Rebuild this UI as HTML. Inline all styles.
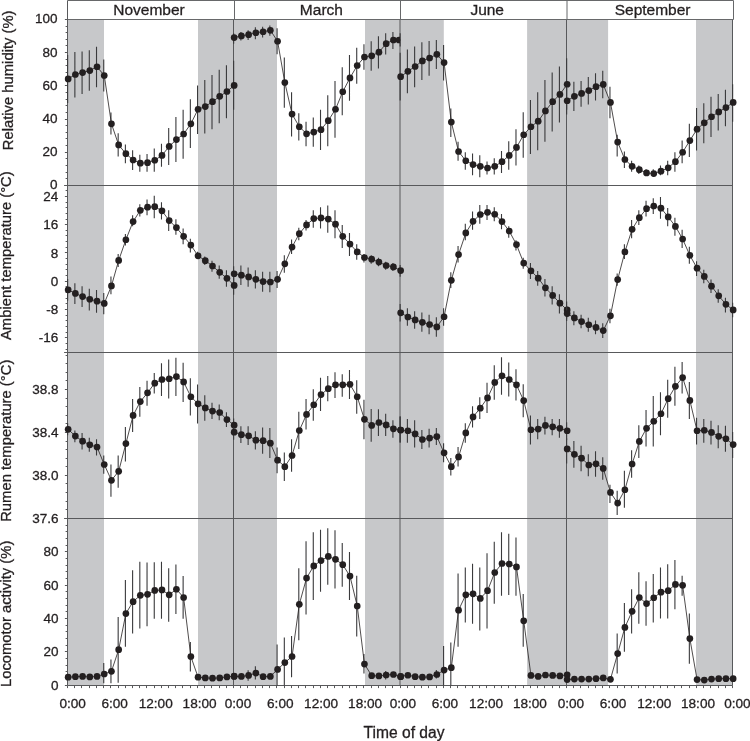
<!DOCTYPE html>
<html><head><meta charset="utf-8"><style>html,body{margin:0;padding:0;background:#fff;}body{width:750px;height:741px;overflow:hidden;}</style></head>
<body>
<svg width="750" height="741" viewBox="0 0 750 741" style="display:block;will-change:transform">
<rect width="750" height="741" fill="#fff"/>
<defs><clipPath id="clipmar"><rect x="380" y="20" width="20" height="40"/></clipPath></defs>
<rect x="67.5" y="19.5" width="36.50" height="666.00" fill="#c7c8ca"/>
<rect x="198.0" y="19.5" width="35.50" height="666.00" fill="#c7c8ca"/>
<rect x="233.5" y="19.5" width="43.50" height="666.00" fill="#c7c8ca"/>
<rect x="365.0" y="19.5" width="35.00" height="666.00" fill="#c7c8ca"/>
<rect x="400.0" y="19.5" width="43.80" height="666.00" fill="#c7c8ca"/>
<rect x="527.1" y="19.5" width="39.40" height="666.00" fill="#c7c8ca"/>
<rect x="566.5" y="19.5" width="41.60" height="666.00" fill="#c7c8ca"/>
<rect x="696.0" y="19.5" width="36.50" height="666.00" fill="#c7c8ca"/>
<path d="M64.1 185.5H732.5M64.1 352.5H732.5M64.1 518.5H732.5M233.5 19.5V685.5M400.0 19.5V685.5M566.5 19.5V685.5M67.5 685.5H732.5M732.5 19.5V685.5M67.5 0.5V685.5" stroke="#58595b" stroke-width="1" fill="none"/>
<path d="M67.5 0.5H733.5V19.5M67.5 19.5H733.5M234.5 0.5V19.5M400.5 0.5V19.5M567.0 0.5V19.5" stroke="#67686a" stroke-width="1" fill="none"/>
<path d="M64.9 19.50H67.5M65.6 26.50H67.5M65.6 32.50H67.5M65.6 39.50H67.5M65.6 45.50H67.5M64.9 52.50H67.5M65.6 59.50H67.5M65.6 65.50H67.5M65.6 72.50H67.5M65.6 79.50H67.5M64.9 85.50H67.5M65.6 92.50H67.5M65.6 99.50H67.5M65.6 105.50H67.5M65.6 112.50H67.5M64.9 119.50H67.5M65.6 125.50H67.5M65.6 132.50H67.5M65.6 138.50H67.5M65.6 145.50H67.5M64.9 152.50H67.5M65.6 158.50H67.5M65.6 165.50H67.5M65.6 172.50H67.5M65.6 178.50H67.5M64.9 185.50H67.5M65.6 190.50H67.5M64.9 196.50H67.5M65.6 202.50H67.5M65.6 207.50H67.5M65.6 213.50H67.5M65.6 219.50H67.5M64.9 224.50H67.5M65.6 230.50H67.5M65.6 235.50H67.5M65.6 241.50H67.5M65.6 247.50H67.5M64.9 252.50H67.5M65.6 258.50H67.5M65.6 264.50H67.5M65.6 269.50H67.5M65.6 275.50H67.5M64.9 281.50H67.5M65.6 286.50H67.5M65.6 292.50H67.5M65.6 298.50H67.5M65.6 303.50H67.5M64.9 309.50H67.5M65.6 315.50H67.5M65.6 320.50H67.5M65.6 326.50H67.5M65.6 332.50H67.5M64.9 337.50H67.5M65.6 343.50H67.5M65.6 349.50H67.5M65.6 355.50H67.5M65.6 363.50H67.5M65.6 372.50H67.5M65.6 380.50H67.5M64.9 389.50H67.5M65.6 398.50H67.5M65.6 406.50H67.5M65.6 415.50H67.5M65.6 423.50H67.5M64.9 432.50H67.5M65.6 441.50H67.5M65.6 449.50H67.5M65.6 458.50H67.5M65.6 466.50H67.5M64.9 475.50H67.5M65.6 483.50H67.5M65.6 492.50H67.5M65.6 501.50H67.5M65.6 509.50H67.5M64.9 518.50H67.5M65.6 525.50H67.5M65.6 531.50H67.5M65.6 538.50H67.5M65.6 545.50H67.5M64.9 551.50H67.5M65.6 558.50H67.5M65.6 565.50H67.5M65.6 571.50H67.5M65.6 578.50H67.5M64.9 585.50H67.5M65.6 591.50H67.5M65.6 598.50H67.5M65.6 605.50H67.5M65.6 611.50H67.5M64.9 618.50H67.5M65.6 625.50H67.5M65.6 631.50H67.5M65.6 638.50H67.5M65.6 645.50H67.5M64.9 651.50H67.5M65.6 658.50H67.5M65.6 665.50H67.5M65.6 671.50H67.5M65.6 678.50H67.5M64.9 685.50H67.5M67.50 685.5V688.1M74.50 685.5V688.1M81.50 685.5V688.1M89.50 685.5V688.1M96.50 685.5V688.1M103.50 685.5V688.1M110.50 685.5V688.1M118.50 685.5V688.1M125.50 685.5V688.1M132.50 685.5V688.1M139.50 685.5V688.1M146.50 685.5V688.1M154.50 685.5V688.1M161.50 685.5V688.1M168.50 685.5V688.1M175.50 685.5V688.1M182.50 685.5V688.1M190.50 685.5V688.1M197.50 685.5V688.1M204.50 685.5V688.1M211.50 685.5V688.1M219.50 685.5V688.1M226.50 685.5V688.1M233.50 685.5V688.1M240.50 685.5V688.1M247.50 685.5V688.1M255.50 685.5V688.1M262.50 685.5V688.1M269.50 685.5V688.1M276.50 685.5V688.1M284.50 685.5V688.1M291.50 685.5V688.1M298.50 685.5V688.1M305.50 685.5V688.1M313.50 685.5V688.1M320.50 685.5V688.1M327.50 685.5V688.1M334.50 685.5V688.1M342.50 685.5V688.1M349.50 685.5V688.1M356.50 685.5V688.1M363.50 685.5V688.1M371.50 685.5V688.1M378.50 685.5V688.1M385.50 685.5V688.1M392.50 685.5V688.1M400.50 685.5V688.1M407.50 685.5V688.1M414.50 685.5V688.1M421.50 685.5V688.1M428.50 685.5V688.1M436.50 685.5V688.1M443.50 685.5V688.1M450.50 685.5V688.1M457.50 685.5V688.1M465.50 685.5V688.1M472.50 685.5V688.1M479.50 685.5V688.1M486.50 685.5V688.1M494.50 685.5V688.1M501.50 685.5V688.1M508.50 685.5V688.1M515.50 685.5V688.1M523.50 685.5V688.1M530.50 685.5V688.1M537.50 685.5V688.1M544.50 685.5V688.1M552.50 685.5V688.1M559.50 685.5V688.1M566.50 685.5V688.1M573.50 685.5V688.1M580.50 685.5V688.1M588.50 685.5V688.1M595.50 685.5V688.1M602.50 685.5V688.1M609.50 685.5V688.1M617.50 685.5V688.1M624.50 685.5V688.1M631.50 685.5V688.1M638.50 685.5V688.1M645.50 685.5V688.1M653.50 685.5V688.1M660.50 685.5V688.1M667.50 685.5V688.1M674.50 685.5V688.1M681.50 685.5V688.1M689.50 685.5V688.1M696.50 685.5V688.1M703.50 685.5V688.1M710.50 685.5V688.1M718.50 685.5V688.1M725.50 685.5V688.1M732.50 685.5V688.1" stroke="#58595b" stroke-width="1" fill="none"/>
<path d="M67.65 55.08V102.93M74.87 51.92V97.58M82.08 51.43V93.94M89.30 50.22V90.78M96.52 46.82V87.14M103.74 59.45V91.51M110.95 112.40V134.50M118.17 133.29V156.61M125.39 144.46V163.17M132.61 150.29V169.97M139.82 154.66V171.67M147.04 153.94V171.67M154.26 148.59V171.67M161.48 143.73V166.81M168.69 127.95V165.11M175.91 117.02V161.95M183.13 109.73V158.79M190.35 99.28V148.11M197.56 85.44V134.02M204.78 80.10V133.53M212.00 75.00V129.16M219.22 69.65V123.33M226.43 65.28V118.23M233.65 60.66V109.73" stroke="#3a3a3c" stroke-width="1.1" fill="none"/>
<polyline points="68.15,78.88 75.37,74.51 82.58,72.57 89.80,70.62 97.02,66.74 104.24,75.48 111.45,123.82 118.67,144.95 125.89,153.69 133.11,160.01 140.32,163.17 147.54,162.68 154.76,160.25 161.98,155.39 169.19,146.41 176.41,139.61 183.63,134.02 190.85,123.82 198.06,109.24 205.28,106.57 212.50,101.71 219.72,96.37 226.93,91.51 234.15,85.44" stroke="#231f20" stroke-width="0.8" fill="none"/>
<g fill="#231f20"><circle cx="68.15" cy="78.88" r="3.35"/><circle cx="75.37" cy="74.51" r="3.35"/><circle cx="82.58" cy="72.57" r="3.35"/><circle cx="89.80" cy="70.62" r="3.35"/><circle cx="97.02" cy="66.74" r="3.35"/><circle cx="104.24" cy="75.48" r="3.35"/><circle cx="111.45" cy="123.82" r="3.35"/><circle cx="118.67" cy="144.95" r="3.35"/><circle cx="125.89" cy="153.69" r="3.35"/><circle cx="133.11" cy="160.01" r="3.35"/><circle cx="140.32" cy="163.17" r="3.35"/><circle cx="147.54" cy="162.68" r="3.35"/><circle cx="154.76" cy="160.25" r="3.35"/><circle cx="161.98" cy="155.39" r="3.35"/><circle cx="169.19" cy="146.41" r="3.35"/><circle cx="176.41" cy="139.61" r="3.35"/><circle cx="183.63" cy="134.02" r="3.35"/><circle cx="190.85" cy="123.82" r="3.35"/><circle cx="198.06" cy="109.24" r="3.35"/><circle cx="205.28" cy="106.57" r="3.35"/><circle cx="212.50" cy="101.71" r="3.35"/><circle cx="219.72" cy="96.37" r="3.35"/><circle cx="226.93" cy="91.51" r="3.35"/><circle cx="234.15" cy="85.44" r="3.35"/></g>
<path d="M233.65 33.22V43.66M240.89 32.00V40.50M248.13 30.30V40.02M255.37 27.14V39.29M262.61 26.66V37.59M269.85 25.44V35.65M277.08 28.36V54.35M284.32 57.51V107.79M291.56 92.24V136.45M298.80 113.37V140.58M306.04 121.87V146.16M313.28 117.50V146.65M320.52 109.73V150.05M327.76 95.16V146.16M335.00 81.07V137.66M342.24 67.22V115.32M349.48 55.08V100.74M356.72 47.79V83.74M363.95 44.15V69.65M371.19 41.23V70.87M378.43 36.13V68.44M385.67 33.22V54.59M392.91 32.00V49.01M400.15 33.22V46.58" stroke="#3a3a3c" stroke-width="1.1" fill="none"/>
<polyline points="234.15,37.59 241.39,35.89 248.63,34.67 255.87,32.73 263.11,31.76 270.35,30.30 277.58,41.23 284.82,82.52 292.06,114.10 299.30,126.73 306.54,133.78 313.78,132.08 321.02,129.65 328.26,120.66 335.50,109.24 342.74,91.75 349.98,77.91 357.22,65.52 364.45,57.02 371.69,55.81 378.93,52.16 386.17,43.66 393.41,40.02 400.65,40.02" stroke="#231f20" stroke-width="0.8" fill="none"/>
<g fill="#231f20"><circle cx="234.15" cy="37.59" r="3.35"/><circle cx="241.39" cy="35.89" r="3.35"/><circle cx="248.63" cy="34.67" r="3.35"/><circle cx="255.87" cy="32.73" r="3.35"/><circle cx="263.11" cy="31.76" r="3.35"/><circle cx="270.35" cy="30.30" r="3.35"/><circle cx="277.58" cy="41.23" r="3.35"/><circle cx="284.82" cy="82.52" r="3.35"/><circle cx="292.06" cy="114.10" r="3.35"/><circle cx="299.30" cy="126.73" r="3.35"/><circle cx="306.54" cy="133.78" r="3.35"/><circle cx="313.78" cy="132.08" r="3.35"/><circle cx="321.02" cy="129.65" r="3.35"/><circle cx="328.26" cy="120.66" r="3.35"/><circle cx="335.50" cy="109.24" r="3.35"/><circle cx="342.74" cy="91.75" r="3.35"/><circle cx="349.98" cy="77.91" r="3.35"/><circle cx="357.22" cy="65.52" r="3.35"/><circle cx="364.45" cy="57.02" r="3.35"/><circle cx="371.69" cy="55.81" r="3.35"/><circle cx="378.93" cy="52.16" r="3.35"/><circle cx="386.17" cy="43.66" r="3.35"/><circle cx="393.41" cy="40.02" r="3.35"/><circle cx="399.0" cy="40.02" r="3.35" clip-path="url(#clipmar)"/></g>
<path d="M400.15 52.65V100.50M407.39 49.49V93.21M414.63 46.58V87.14M421.87 42.20V80.10M429.11 40.99V75.72M436.35 40.02V68.92M443.58 44.88V80.58M450.82 108.51V136.93M458.06 141.79V160.74M465.30 152.24V169.72M472.54 153.45V175.31M479.78 155.15V177.25M487.02 161.47V174.58M494.26 158.31V174.58M501.50 151.02V172.88M508.74 141.31V169.72M515.98 129.16V165.60M523.22 112.16V157.82M530.45 100.01V153.94M537.69 92.24V150.29M544.93 80.10V141.79M552.17 72.57V131.59M559.41 66.49V122.60M566.65 58.24V109.73" stroke="#3a3a3c" stroke-width="1.1" fill="none"/>
<polyline points="400.65,76.70 407.89,71.35 415.13,66.49 422.37,60.91 429.61,57.99 436.85,54.35 444.08,62.61 451.32,122.12 458.56,151.51 465.80,160.74 473.04,164.62 480.28,166.32 487.52,168.02 494.76,166.32 502.00,161.71 509.24,155.39 516.48,147.38 523.72,134.75 530.95,126.73 538.19,121.15 545.43,110.94 552.67,101.71 559.91,94.43 567.15,84.23" stroke="#231f20" stroke-width="0.8" fill="none"/>
<g fill="#231f20"><circle cx="400.65" cy="76.70" r="3.35"/><circle cx="407.89" cy="71.35" r="3.35"/><circle cx="415.13" cy="66.49" r="3.35"/><circle cx="422.37" cy="60.91" r="3.35"/><circle cx="429.61" cy="57.99" r="3.35"/><circle cx="436.85" cy="54.35" r="3.35"/><circle cx="444.08" cy="62.61" r="3.35"/><circle cx="451.32" cy="122.12" r="3.35"/><circle cx="458.56" cy="151.51" r="3.35"/><circle cx="465.80" cy="160.74" r="3.35"/><circle cx="473.04" cy="164.62" r="3.35"/><circle cx="480.28" cy="166.32" r="3.35"/><circle cx="487.52" cy="168.02" r="3.35"/><circle cx="494.76" cy="166.32" r="3.35"/><circle cx="502.00" cy="161.71" r="3.35"/><circle cx="509.24" cy="155.39" r="3.35"/><circle cx="516.48" cy="147.38" r="3.35"/><circle cx="523.72" cy="134.75" r="3.35"/><circle cx="530.95" cy="126.73" r="3.35"/><circle cx="538.19" cy="121.15" r="3.35"/><circle cx="545.43" cy="110.94" r="3.35"/><circle cx="552.67" cy="101.71" r="3.35"/><circle cx="559.91" cy="94.43" r="3.35"/><circle cx="567.15" cy="84.23" r="3.35"/></g>
<path d="M566.65 87.87V114.59M573.87 81.80V110.94M581.08 81.07V106.81M588.30 76.94V104.39M595.52 73.29V100.50M602.74 70.87V98.31M609.95 86.65V118.23M617.17 134.75V156.61M624.39 151.51V168.02M631.61 160.74V171.67M638.82 165.60V174.10M646.04 169.24V175.80M653.26 169.24V176.53M660.48 165.60V175.31M667.69 160.74V175.31M674.91 152.24V171.67M682.13 140.58V163.17M689.35 123.82V157.09M696.56 108.03V150.54M703.78 103.17V143.25M711.00 96.86V136.93M718.22 93.94V130.38M725.43 89.81V126.25M732.65 84.23V121.87" stroke="#3a3a3c" stroke-width="1.1" fill="none"/>
<polyline points="567.15,100.74 574.37,96.37 581.58,93.46 588.80,90.54 596.02,86.65 603.24,84.47 610.45,102.44 617.67,142.03 624.89,159.52 632.11,166.32 639.32,169.72 646.54,172.88 653.76,173.61 660.98,171.18 668.19,167.78 675.41,161.71 682.63,152.24 689.85,140.58 697.06,129.16 704.28,122.85 711.50,116.77 718.72,111.92 725.93,107.54 733.15,102.44" stroke="#231f20" stroke-width="0.8" fill="none"/>
<g fill="#231f20"><circle cx="567.15" cy="100.74" r="3.35"/><circle cx="574.37" cy="96.37" r="3.35"/><circle cx="581.58" cy="93.46" r="3.35"/><circle cx="588.80" cy="90.54" r="3.35"/><circle cx="596.02" cy="86.65" r="3.35"/><circle cx="603.24" cy="84.47" r="3.35"/><circle cx="610.45" cy="102.44" r="3.35"/><circle cx="617.67" cy="142.03" r="3.35"/><circle cx="624.89" cy="159.52" r="3.35"/><circle cx="632.11" cy="166.32" r="3.35"/><circle cx="639.32" cy="169.72" r="3.35"/><circle cx="646.54" cy="172.88" r="3.35"/><circle cx="653.76" cy="173.61" r="3.35"/><circle cx="660.98" cy="171.18" r="3.35"/><circle cx="668.19" cy="167.78" r="3.35"/><circle cx="675.41" cy="161.71" r="3.35"/><circle cx="682.63" cy="152.24" r="3.35"/><circle cx="689.85" cy="140.58" r="3.35"/><circle cx="697.06" cy="129.16" r="3.35"/><circle cx="704.28" cy="122.85" r="3.35"/><circle cx="711.50" cy="116.77" r="3.35"/><circle cx="718.72" cy="111.92" r="3.35"/><circle cx="725.93" cy="107.54" r="3.35"/><circle cx="733.15" cy="102.44" r="3.35"/></g>
<path d="M67.65 279.10V300.72M74.87 283.23V303.88M82.08 286.15V307.03M89.30 288.82V310.43M96.52 290.03V312.86M103.74 292.95V314.32M110.95 276.43V294.16M118.17 254.08V266.96M125.39 233.92V245.58M132.61 215.22V226.15M139.82 204.29V216.43M147.04 199.43V215.22M154.26 195.79V218.13M161.48 202.35V219.59M168.69 210.36V231.01M175.91 219.35V234.65M183.13 228.58V244.37M190.35 238.78V252.38M197.56 251.65V258.94M204.78 256.51V265.01M212.00 260.64V271.81M219.22 265.50V278.86M226.43 270.36V286.87M233.65 275.94V294.65" stroke="#3a3a3c" stroke-width="1.1" fill="none"/>
<polyline points="68.15,289.79 75.37,293.43 82.58,296.59 89.80,299.26 97.02,301.20 104.24,303.39 111.45,285.90 118.67,260.40 125.89,239.75 133.11,221.54 140.32,210.36 147.54,207.20 154.76,206.72 161.98,210.85 169.19,220.56 176.41,227.61 183.63,236.35 190.85,245.10 198.06,255.78 205.28,260.64 212.50,265.98 219.72,272.30 226.93,278.37 234.15,285.42" stroke="#231f20" stroke-width="0.8" fill="none"/>
<g fill="#231f20"><circle cx="68.15" cy="289.79" r="3.35"/><circle cx="75.37" cy="293.43" r="3.35"/><circle cx="82.58" cy="296.59" r="3.35"/><circle cx="89.80" cy="299.26" r="3.35"/><circle cx="97.02" cy="301.20" r="3.35"/><circle cx="104.24" cy="303.39" r="3.35"/><circle cx="111.45" cy="285.90" r="3.35"/><circle cx="118.67" cy="260.40" r="3.35"/><circle cx="125.89" cy="239.75" r="3.35"/><circle cx="133.11" cy="221.54" r="3.35"/><circle cx="140.32" cy="210.36" r="3.35"/><circle cx="147.54" cy="207.20" r="3.35"/><circle cx="154.76" cy="206.72" r="3.35"/><circle cx="161.98" cy="210.85" r="3.35"/><circle cx="169.19" cy="220.56" r="3.35"/><circle cx="176.41" cy="227.61" r="3.35"/><circle cx="183.63" cy="236.35" r="3.35"/><circle cx="190.85" cy="245.10" r="3.35"/><circle cx="198.06" cy="255.78" r="3.35"/><circle cx="205.28" cy="260.64" r="3.35"/><circle cx="212.50" cy="265.98" r="3.35"/><circle cx="219.72" cy="272.30" r="3.35"/><circle cx="226.93" cy="278.37" r="3.35"/><circle cx="234.15" cy="285.42" r="3.35"/></g>
<path d="M233.65 266.23V282.02M240.89 265.50V284.93M248.13 267.44V286.87M255.37 270.36V288.57M262.61 271.81V291.73M269.85 271.81V292.22M277.08 271.09V288.09M284.32 255.30V272.79M291.56 239.51V254.08M298.80 227.85V240.24M306.04 220.08V230.52M313.28 210.36V227.85M320.52 207.20V228.58M327.76 205.50V232.71M335.00 210.36V238.29M342.24 224.94V248.01M349.48 232.95V256.03M356.72 244.37V259.67M363.95 254.08V262.58M371.19 255.30V263.80M378.43 257.73V266.23M385.67 261.86V269.87M392.91 263.07V271.09M400.15 265.01V276.67" stroke="#3a3a3c" stroke-width="1.1" fill="none"/>
<polyline points="234.15,273.76 241.39,275.21 248.63,276.92 255.87,279.34 263.11,281.53 270.35,282.02 277.58,279.34 284.82,263.80 292.06,247.04 299.30,233.68 306.54,224.94 313.78,218.62 321.02,217.89 328.26,219.11 335.50,224.21 342.74,236.35 349.98,244.12 357.22,251.90 364.45,257.48 371.69,259.18 378.93,262.10 386.17,265.50 393.41,266.96 400.65,270.60" stroke="#231f20" stroke-width="0.8" fill="none"/>
<g fill="#231f20"><circle cx="234.15" cy="273.76" r="3.35"/><circle cx="241.39" cy="275.21" r="3.35"/><circle cx="248.63" cy="276.92" r="3.35"/><circle cx="255.87" cy="279.34" r="3.35"/><circle cx="263.11" cy="281.53" r="3.35"/><circle cx="270.35" cy="282.02" r="3.35"/><circle cx="277.58" cy="279.34" r="3.35"/><circle cx="284.82" cy="263.80" r="3.35"/><circle cx="292.06" cy="247.04" r="3.35"/><circle cx="299.30" cy="233.68" r="3.35"/><circle cx="306.54" cy="224.94" r="3.35"/><circle cx="313.78" cy="218.62" r="3.35"/><circle cx="321.02" cy="217.89" r="3.35"/><circle cx="328.26" cy="219.11" r="3.35"/><circle cx="335.50" cy="224.21" r="3.35"/><circle cx="342.74" cy="236.35" r="3.35"/><circle cx="349.98" cy="244.12" r="3.35"/><circle cx="357.22" cy="251.90" r="3.35"/><circle cx="364.45" cy="257.48" r="3.35"/><circle cx="371.69" cy="259.18" r="3.35"/><circle cx="378.93" cy="262.10" r="3.35"/><circle cx="386.17" cy="265.50" r="3.35"/><circle cx="393.41" cy="266.96" r="3.35"/><circle cx="400.65" cy="270.60" r="3.35"/></g>
<path d="M400.15 303.88V321.61M407.39 308.25V325.74M414.63 311.16V328.65M421.87 312.38V331.81M429.11 314.81V334.24M436.35 317.24V336.67M443.58 308.25V325.74M450.82 272.30V288.09M458.06 246.07V262.58M465.30 223.72V240.24M472.54 211.58V229.79M479.78 205.02V223.72M487.02 205.02V220.08M494.26 207.20V221.29M501.50 214.01V229.31M508.74 226.15V237.81M515.98 240.24V250.44M523.22 257.73V268.66M530.45 263.07V279.10M537.69 271.09V285.66M544.93 279.10V296.59M552.17 286.15V304.61M559.41 294.16V313.59M566.65 301.45V318.45" stroke="#3a3a3c" stroke-width="1.1" fill="none"/>
<polyline points="400.65,312.86 407.89,316.99 415.13,319.91 422.37,322.34 429.61,324.52 436.85,326.95 444.08,316.75 451.32,280.32 458.56,254.57 465.80,232.95 473.04,221.29 480.28,214.49 487.52,212.31 494.76,214.25 502.00,221.54 509.24,231.01 516.48,244.61 523.72,263.07 530.95,270.84 538.19,278.13 545.43,287.85 552.67,295.38 559.91,303.15 567.15,309.95" stroke="#231f20" stroke-width="0.8" fill="none"/>
<g fill="#231f20"><circle cx="400.65" cy="312.86" r="3.35"/><circle cx="407.89" cy="316.99" r="3.35"/><circle cx="415.13" cy="319.91" r="3.35"/><circle cx="422.37" cy="322.34" r="3.35"/><circle cx="429.61" cy="324.52" r="3.35"/><circle cx="436.85" cy="326.95" r="3.35"/><circle cx="444.08" cy="316.75" r="3.35"/><circle cx="451.32" cy="280.32" r="3.35"/><circle cx="458.56" cy="254.57" r="3.35"/><circle cx="465.80" cy="232.95" r="3.35"/><circle cx="473.04" cy="221.29" r="3.35"/><circle cx="480.28" cy="214.49" r="3.35"/><circle cx="487.52" cy="212.31" r="3.35"/><circle cx="494.76" cy="214.25" r="3.35"/><circle cx="502.00" cy="221.54" r="3.35"/><circle cx="509.24" cy="231.01" r="3.35"/><circle cx="516.48" cy="244.61" r="3.35"/><circle cx="523.72" cy="263.07" r="3.35"/><circle cx="530.95" cy="270.84" r="3.35"/><circle cx="538.19" cy="278.13" r="3.35"/><circle cx="545.43" cy="287.85" r="3.35"/><circle cx="552.67" cy="295.38" r="3.35"/><circle cx="559.91" cy="303.15" r="3.35"/><circle cx="567.15" cy="309.95" r="3.35"/></g>
<path d="M566.65 306.31V320.88M573.87 311.16V325.25M581.08 314.81V328.17M588.30 317.72V331.81M595.52 320.39V334.24M602.74 323.31V337.88M609.95 308.73V323.31M617.17 273.51V285.66M624.39 244.37V258.94M631.61 220.08V238.29M638.82 210.36V224.94M646.04 200.65V216.43M653.26 198.22V214.01M660.48 197.00V218.86M667.69 207.93V226.15M674.91 217.65V235.87M682.13 229.79V248.01M689.35 246.80V263.80M696.56 261.37V275.94M703.78 269.87V283.23M711.00 279.59V292.95M718.22 289.30V302.66M725.43 297.80V312.38M732.65 302.66V317.24" stroke="#3a3a3c" stroke-width="1.1" fill="none"/>
<polyline points="567.15,313.59 574.37,317.96 581.58,321.61 588.80,324.77 596.02,327.44 603.24,330.60 610.45,315.78 617.67,279.59 624.89,251.90 632.11,229.31 639.32,217.65 646.54,208.66 653.76,205.99 660.98,208.18 668.19,216.92 675.41,226.39 682.63,239.02 689.85,255.30 697.06,268.17 704.28,276.43 711.50,286.15 718.72,295.86 725.93,304.36 733.15,309.95" stroke="#231f20" stroke-width="0.8" fill="none"/>
<g fill="#231f20"><circle cx="567.15" cy="313.59" r="3.35"/><circle cx="574.37" cy="317.96" r="3.35"/><circle cx="581.58" cy="321.61" r="3.35"/><circle cx="588.80" cy="324.77" r="3.35"/><circle cx="596.02" cy="327.44" r="3.35"/><circle cx="603.24" cy="330.60" r="3.35"/><circle cx="610.45" cy="315.78" r="3.35"/><circle cx="617.67" cy="279.59" r="3.35"/><circle cx="624.89" cy="251.90" r="3.35"/><circle cx="632.11" cy="229.31" r="3.35"/><circle cx="639.32" cy="217.65" r="3.35"/><circle cx="646.54" cy="208.66" r="3.35"/><circle cx="653.76" cy="205.99" r="3.35"/><circle cx="660.98" cy="208.18" r="3.35"/><circle cx="668.19" cy="216.92" r="3.35"/><circle cx="675.41" cy="226.39" r="3.35"/><circle cx="682.63" cy="239.02" r="3.35"/><circle cx="689.85" cy="255.30" r="3.35"/><circle cx="697.06" cy="268.17" r="3.35"/><circle cx="704.28" cy="276.43" r="3.35"/><circle cx="711.50" cy="286.15" r="3.35"/><circle cx="718.72" cy="295.86" r="3.35"/><circle cx="725.93" cy="304.36" r="3.35"/><circle cx="733.15" cy="309.95" r="3.35"/></g>
<path d="M67.65 423.21V435.36M74.87 430.50V442.16M82.08 432.93V449.44M89.30 437.79V451.87M96.52 439.24V455.52M103.74 455.52V473.73M110.95 464.50V496.81M118.17 455.52V487.82M125.39 427.10V461.59M132.61 398.92V431.96M139.82 387.02V416.65M147.04 380.71V405.72M154.26 372.93V393.58M161.48 363.22V396.01M168.69 359.57V398.44M175.91 357.63V396.01M183.13 362.73V402.08M190.35 378.28V415.44M197.56 384.59V423.46M204.78 395.28V420.78M212.00 402.81V419.08M219.22 404.51V420.30M226.43 412.28V427.10M233.65 418.60V432.44" stroke="#3a3a3c" stroke-width="1.1" fill="none"/>
<polyline points="68.15,429.28 75.37,436.09 82.58,441.19 89.80,444.83 97.02,447.02 104.24,464.50 111.45,480.29 118.67,471.31 125.89,443.62 133.11,415.44 140.32,401.59 147.54,392.85 154.76,383.13 161.98,379.49 169.19,378.76 176.41,376.58 183.63,381.92 190.85,396.74 198.06,403.78 205.28,407.91 212.50,411.07 219.72,412.52 226.93,419.57 234.15,425.16" stroke="#231f20" stroke-width="0.8" fill="none"/>
<g fill="#231f20"><circle cx="68.15" cy="429.28" r="3.35"/><circle cx="75.37" cy="436.09" r="3.35"/><circle cx="82.58" cy="441.19" r="3.35"/><circle cx="89.80" cy="444.83" r="3.35"/><circle cx="97.02" cy="447.02" r="3.35"/><circle cx="104.24" cy="464.50" r="3.35"/><circle cx="111.45" cy="480.29" r="3.35"/><circle cx="118.67" cy="471.31" r="3.35"/><circle cx="125.89" cy="443.62" r="3.35"/><circle cx="133.11" cy="415.44" r="3.35"/><circle cx="140.32" cy="401.59" r="3.35"/><circle cx="147.54" cy="392.85" r="3.35"/><circle cx="154.76" cy="383.13" r="3.35"/><circle cx="161.98" cy="379.49" r="3.35"/><circle cx="169.19" cy="378.76" r="3.35"/><circle cx="176.41" cy="376.58" r="3.35"/><circle cx="183.63" cy="381.92" r="3.35"/><circle cx="190.85" cy="396.74" r="3.35"/><circle cx="198.06" cy="403.78" r="3.35"/><circle cx="205.28" cy="407.91" r="3.35"/><circle cx="212.50" cy="411.07" r="3.35"/><circle cx="219.72" cy="412.52" r="3.35"/><circle cx="226.93" cy="419.57" r="3.35"/><circle cx="234.15" cy="425.16" r="3.35"/></g>
<path d="M233.65 427.58V439.73M240.89 426.37V442.89M248.13 426.37V445.07M255.37 431.23V449.44M262.61 427.58V453.82M269.85 428.07V457.95M277.08 447.50V473.25M284.32 452.60V481.02M291.56 439.24V471.79M298.80 411.80V448.96M306.04 398.92V429.53M313.28 389.21V420.78M320.52 377.79V411.07M327.76 376.09V401.35M335.00 372.20V397.95M342.24 374.15V396.74M349.48 370.02V398.92M356.72 380.22V413.74M363.95 399.65V439.24M371.19 408.88V441.67M378.43 409.37V436.09M385.67 413.74V436.09M392.91 420.30V437.79M400.15 416.17V442.64" stroke="#3a3a3c" stroke-width="1.1" fill="none"/>
<polyline points="234.15,432.20 241.39,434.63 248.63,435.84 255.87,440.21 263.11,440.70 270.35,443.13 277.58,460.13 284.82,466.69 292.06,455.52 299.30,430.50 306.54,414.47 313.78,404.75 321.02,394.55 328.26,388.72 335.50,384.83 342.74,384.83 349.98,384.35 357.22,396.74 364.45,419.33 371.69,425.40 378.93,422.48 386.17,424.91 393.41,428.80 400.65,430.01" stroke="#231f20" stroke-width="0.8" fill="none"/>
<g fill="#231f20"><circle cx="234.15" cy="432.20" r="3.35"/><circle cx="241.39" cy="434.63" r="3.35"/><circle cx="248.63" cy="435.84" r="3.35"/><circle cx="255.87" cy="440.21" r="3.35"/><circle cx="263.11" cy="440.70" r="3.35"/><circle cx="270.35" cy="443.13" r="3.35"/><circle cx="277.58" cy="460.13" r="3.35"/><circle cx="284.82" cy="466.69" r="3.35"/><circle cx="292.06" cy="455.52" r="3.35"/><circle cx="299.30" cy="430.50" r="3.35"/><circle cx="306.54" cy="414.47" r="3.35"/><circle cx="313.78" cy="404.75" r="3.35"/><circle cx="321.02" cy="394.55" r="3.35"/><circle cx="328.26" cy="388.72" r="3.35"/><circle cx="335.50" cy="384.83" r="3.35"/><circle cx="342.74" cy="384.83" r="3.35"/><circle cx="349.98" cy="384.35" r="3.35"/><circle cx="357.22" cy="396.74" r="3.35"/><circle cx="364.45" cy="419.33" r="3.35"/><circle cx="371.69" cy="425.40" r="3.35"/><circle cx="378.93" cy="422.48" r="3.35"/><circle cx="386.17" cy="424.91" r="3.35"/><circle cx="393.41" cy="428.80" r="3.35"/><circle cx="400.65" cy="430.01" r="3.35"/></g>
<path d="M400.15 416.65V442.16M407.39 419.08V442.64M414.63 420.30V447.50M421.87 430.01V448.96M429.11 428.80V447.50M436.35 428.07V445.07M443.58 443.37V462.32M450.82 457.95V475.43M458.06 447.02V466.45M465.30 423.21V442.64M472.54 406.21V427.58M479.78 397.22V419.08M487.02 382.65V413.01M494.26 365.16V399.65M501.50 357.14V394.79M508.74 362.49V396.49M515.98 369.29V400.38M523.22 384.35V417.14M530.45 415.44V444.59M537.69 419.08V439.24M544.93 416.65V434.39M552.17 419.08V435.36M559.41 419.08V437.79M566.65 422.24V439.73" stroke="#3a3a3c" stroke-width="1.1" fill="none"/>
<polyline points="400.65,430.01 407.89,430.74 415.13,433.90 422.37,439.49 429.61,438.03 436.85,436.57 444.08,452.85 451.32,466.69 458.56,456.97 465.80,432.93 473.04,416.90 480.28,408.15 487.52,397.95 494.76,382.41 502.00,375.85 509.24,379.49 516.48,384.83 523.72,400.62 530.95,429.77 538.19,429.04 545.43,425.40 552.67,426.86 559.91,428.31 567.15,430.74" stroke="#231f20" stroke-width="0.8" fill="none"/>
<g fill="#231f20"><circle cx="400.65" cy="430.01" r="3.35"/><circle cx="407.89" cy="430.74" r="3.35"/><circle cx="415.13" cy="433.90" r="3.35"/><circle cx="422.37" cy="439.49" r="3.35"/><circle cx="429.61" cy="438.03" r="3.35"/><circle cx="436.85" cy="436.57" r="3.35"/><circle cx="444.08" cy="452.85" r="3.35"/><circle cx="451.32" cy="466.69" r="3.35"/><circle cx="458.56" cy="456.97" r="3.35"/><circle cx="465.80" cy="432.93" r="3.35"/><circle cx="473.04" cy="416.90" r="3.35"/><circle cx="480.28" cy="408.15" r="3.35"/><circle cx="487.52" cy="397.95" r="3.35"/><circle cx="494.76" cy="382.41" r="3.35"/><circle cx="502.00" cy="375.85" r="3.35"/><circle cx="509.24" cy="379.49" r="3.35"/><circle cx="516.48" cy="384.83" r="3.35"/><circle cx="523.72" cy="400.62" r="3.35"/><circle cx="530.95" cy="429.77" r="3.35"/><circle cx="538.19" cy="429.04" r="3.35"/><circle cx="545.43" cy="425.40" r="3.35"/><circle cx="552.67" cy="426.86" r="3.35"/><circle cx="559.91" cy="428.31" r="3.35"/><circle cx="567.15" cy="430.74" r="3.35"/></g>
<path d="M566.65 438.51V463.53M573.87 440.94V467.66M581.08 445.80V471.31M588.30 454.30V476.16M595.52 451.15V476.65M602.74 457.22V479.81M609.95 484.66V502.88M617.17 490.74V515.03M624.39 470.82V507.74M631.61 450.17V477.86M638.82 425.16V457.95M646.04 410.10V446.53M653.26 396.01V446.53M660.48 392.36V435.36M667.69 379.73V417.87M674.91 366.86V405.72M682.13 362.00V393.58M689.35 381.92V419.08M696.56 417.87V444.59M703.78 419.08V442.64M711.00 420.78V444.59M718.22 425.16V448.23M725.43 425.64V451.87M732.65 431.96V457.95" stroke="#3a3a3c" stroke-width="1.1" fill="none"/>
<polyline points="567.15,448.96 574.37,454.30 581.58,458.19 588.80,464.99 596.02,463.78 603.24,468.39 610.45,492.44 617.67,503.12 624.89,489.77 632.11,464.02 639.32,441.43 646.54,428.31 653.76,421.27 660.98,413.74 668.19,398.68 675.41,386.29 682.63,377.55 689.85,400.38 697.06,430.74 704.28,430.26 711.50,432.44 718.72,436.33 725.93,438.76 733.15,444.59" stroke="#231f20" stroke-width="0.8" fill="none"/>
<g fill="#231f20"><circle cx="567.15" cy="448.96" r="3.35"/><circle cx="574.37" cy="454.30" r="3.35"/><circle cx="581.58" cy="458.19" r="3.35"/><circle cx="588.80" cy="464.99" r="3.35"/><circle cx="596.02" cy="463.78" r="3.35"/><circle cx="603.24" cy="468.39" r="3.35"/><circle cx="610.45" cy="492.44" r="3.35"/><circle cx="617.67" cy="503.12" r="3.35"/><circle cx="624.89" cy="489.77" r="3.35"/><circle cx="632.11" cy="464.02" r="3.35"/><circle cx="639.32" cy="441.43" r="3.35"/><circle cx="646.54" cy="428.31" r="3.35"/><circle cx="653.76" cy="421.27" r="3.35"/><circle cx="660.98" cy="413.74" r="3.35"/><circle cx="668.19" cy="398.68" r="3.35"/><circle cx="675.41" cy="386.29" r="3.35"/><circle cx="682.63" cy="377.55" r="3.35"/><circle cx="689.85" cy="400.38" r="3.35"/><circle cx="697.06" cy="430.74" r="3.35"/><circle cx="704.28" cy="430.26" r="3.35"/><circle cx="711.50" cy="432.44" r="3.35"/><circle cx="718.72" cy="436.33" r="3.35"/><circle cx="725.93" cy="438.76" r="3.35"/><circle cx="733.15" cy="444.59" r="3.35"/></g>
<path d="M103.74 663.08V683.24M110.95 659.44V683.24M118.17 616.93V682.76M125.39 580.01V646.81M132.61 570.29V633.45M139.82 561.79V628.59M147.04 562.52V626.16M154.26 562.28V618.87M161.48 561.79V618.87M168.69 568.35V621.79M175.91 564.47V614.02M183.13 575.88V618.87M190.35 641.95V671.58" stroke="#3a3a3c" stroke-width="1.1" fill="none"/>
<polyline points="68.15,677.17 75.37,676.68 82.58,676.44 89.80,676.93 97.02,676.44 104.24,674.01 111.45,671.34 118.67,649.72 125.89,613.53 133.11,601.63 140.32,595.31 147.54,594.34 154.76,590.46 161.98,589.97 169.19,594.83 176.41,589.24 183.63,597.50 190.85,656.52 198.06,677.17 205.28,677.90 212.50,678.14 219.72,677.90 226.93,676.93 234.15,676.20" stroke="#231f20" stroke-width="0.8" fill="none"/>
<g fill="#231f20"><circle cx="68.15" cy="677.17" r="3.35"/><circle cx="75.37" cy="676.68" r="3.35"/><circle cx="82.58" cy="676.44" r="3.35"/><circle cx="89.80" cy="676.93" r="3.35"/><circle cx="97.02" cy="676.44" r="3.35"/><circle cx="104.24" cy="674.01" r="3.35"/><circle cx="111.45" cy="671.34" r="3.35"/><circle cx="118.67" cy="649.72" r="3.35"/><circle cx="125.89" cy="613.53" r="3.35"/><circle cx="133.11" cy="601.63" r="3.35"/><circle cx="140.32" cy="595.31" r="3.35"/><circle cx="147.54" cy="594.34" r="3.35"/><circle cx="154.76" cy="590.46" r="3.35"/><circle cx="161.98" cy="589.97" r="3.35"/><circle cx="169.19" cy="594.83" r="3.35"/><circle cx="176.41" cy="589.24" r="3.35"/><circle cx="183.63" cy="597.50" r="3.35"/><circle cx="190.85" cy="656.52" r="3.35"/><circle cx="198.06" cy="677.17" r="3.35"/><circle cx="205.28" cy="677.90" r="3.35"/><circle cx="212.50" cy="678.14" r="3.35"/><circle cx="219.72" cy="677.90" r="3.35"/><circle cx="226.93" cy="676.93" r="3.35"/><circle cx="234.15" cy="676.20" r="3.35"/></g>
<path d="M248.13 670.37V680.81M255.37 666.24V679.60M277.08 644.38V685.50M284.32 637.58V685.50M291.56 635.88V677.17M298.80 568.35V640.25M306.04 541.15V614.50M313.28 532.16V599.93M320.52 529.73V591.67M327.76 528.27V584.87M335.00 530.22V588.51M342.24 543.09V586.81M349.48 552.08V599.93M356.72 575.64V636.61M363.95 654.09V673.53M385.67 671.10V679.60" stroke="#3a3a3c" stroke-width="1.1" fill="none"/>
<polyline points="234.15,676.44 241.39,676.44 248.63,675.47 255.87,673.04 263.11,676.68 270.35,676.44 277.58,669.40 284.82,662.60 292.06,656.52 299.30,604.30 306.54,578.07 313.78,565.92 321.02,560.58 328.26,556.45 335.50,559.36 342.74,564.71 349.98,576.12 357.22,606.00 364.45,664.05 371.69,675.71 378.93,675.95 386.17,674.98 393.41,674.50 400.65,676.68" stroke="#231f20" stroke-width="0.8" fill="none"/>
<g fill="#231f20"><circle cx="234.15" cy="676.44" r="3.35"/><circle cx="241.39" cy="676.44" r="3.35"/><circle cx="248.63" cy="675.47" r="3.35"/><circle cx="255.87" cy="673.04" r="3.35"/><circle cx="263.11" cy="676.68" r="3.35"/><circle cx="270.35" cy="676.44" r="3.35"/><circle cx="277.58" cy="669.40" r="3.35"/><circle cx="284.82" cy="662.60" r="3.35"/><circle cx="292.06" cy="656.52" r="3.35"/><circle cx="299.30" cy="604.30" r="3.35"/><circle cx="306.54" cy="578.07" r="3.35"/><circle cx="313.78" cy="565.92" r="3.35"/><circle cx="321.02" cy="560.58" r="3.35"/><circle cx="328.26" cy="556.45" r="3.35"/><circle cx="335.50" cy="559.36" r="3.35"/><circle cx="342.74" cy="564.71" r="3.35"/><circle cx="349.98" cy="576.12" r="3.35"/><circle cx="357.22" cy="606.00" r="3.35"/><circle cx="364.45" cy="664.05" r="3.35"/><circle cx="371.69" cy="675.71" r="3.35"/><circle cx="378.93" cy="675.95" r="3.35"/><circle cx="386.17" cy="674.98" r="3.35"/><circle cx="393.41" cy="674.50" r="3.35"/><circle cx="400.65" cy="676.68" r="3.35"/></g>
<path d="M436.35 669.88V678.38M443.58 646.08V685.50M450.82 642.43V685.50M458.06 573.45V646.81M465.30 567.38V622.52M472.54 563.74V623.73M479.78 567.38V630.53M487.02 553.29V628.59M494.26 541.63V603.81M501.50 532.16V595.80M508.74 533.86V595.07M515.98 537.50V595.80M523.22 594.10V646.81" stroke="#3a3a3c" stroke-width="1.1" fill="none"/>
<polyline points="400.65,676.44 407.89,675.23 415.13,676.68 422.37,677.17 429.61,676.93 436.85,674.50 444.08,670.12 451.32,667.70 458.56,610.13 465.80,594.83 473.04,593.86 480.28,598.47 487.52,590.70 494.76,572.48 502.00,563.49 509.24,563.98 516.48,566.89 523.72,620.82 530.95,675.47 538.19,676.44 545.43,674.98 552.67,675.47 559.91,675.95 567.15,674.74" stroke="#231f20" stroke-width="0.8" fill="none"/>
<g fill="#231f20"><circle cx="400.65" cy="676.44" r="3.35"/><circle cx="407.89" cy="675.23" r="3.35"/><circle cx="415.13" cy="676.68" r="3.35"/><circle cx="422.37" cy="677.17" r="3.35"/><circle cx="429.61" cy="676.93" r="3.35"/><circle cx="436.85" cy="674.50" r="3.35"/><circle cx="444.08" cy="670.12" r="3.35"/><circle cx="451.32" cy="667.70" r="3.35"/><circle cx="458.56" cy="610.13" r="3.35"/><circle cx="465.80" cy="594.83" r="3.35"/><circle cx="473.04" cy="593.86" r="3.35"/><circle cx="480.28" cy="598.47" r="3.35"/><circle cx="487.52" cy="590.70" r="3.35"/><circle cx="494.76" cy="572.48" r="3.35"/><circle cx="502.00" cy="563.49" r="3.35"/><circle cx="509.24" cy="563.98" r="3.35"/><circle cx="516.48" cy="566.89" r="3.35"/><circle cx="523.72" cy="620.82" r="3.35"/><circle cx="530.95" cy="675.47" r="3.35"/><circle cx="538.19" cy="676.44" r="3.35"/><circle cx="545.43" cy="674.98" r="3.35"/><circle cx="552.67" cy="675.47" r="3.35"/><circle cx="559.91" cy="675.95" r="3.35"/><circle cx="567.15" cy="674.74" r="3.35"/></g>
<path d="M617.17 633.45V673.53M624.39 603.09V651.66M631.61 589.24V633.45M638.82 572.24V623.73M646.04 581.23V625.68M653.26 573.94V622.52M660.48 567.38V618.39M667.69 564.22V618.39M674.91 560.09V609.16M682.13 575.64V595.80M689.35 613.53V663.81" stroke="#3a3a3c" stroke-width="1.1" fill="none"/>
<polyline points="567.15,679.60 574.37,679.11 581.58,679.11 588.80,679.11 596.02,678.63 603.24,677.90 610.45,679.35 617.67,653.61 624.89,627.38 632.11,611.34 639.32,597.50 646.54,603.57 653.76,597.74 660.98,592.16 668.19,590.70 675.41,584.38 682.63,585.35 689.85,638.55 697.06,679.60 704.28,680.08 711.50,679.11 718.72,678.63 725.93,678.63 733.15,678.63" stroke="#231f20" stroke-width="0.8" fill="none"/>
<g fill="#231f20"><circle cx="567.15" cy="679.60" r="3.35"/><circle cx="574.37" cy="679.11" r="3.35"/><circle cx="581.58" cy="679.11" r="3.35"/><circle cx="588.80" cy="679.11" r="3.35"/><circle cx="596.02" cy="678.63" r="3.35"/><circle cx="603.24" cy="677.90" r="3.35"/><circle cx="610.45" cy="679.35" r="3.35"/><circle cx="617.67" cy="653.61" r="3.35"/><circle cx="624.89" cy="627.38" r="3.35"/><circle cx="632.11" cy="611.34" r="3.35"/><circle cx="639.32" cy="597.50" r="3.35"/><circle cx="646.54" cy="603.57" r="3.35"/><circle cx="653.76" cy="597.74" r="3.35"/><circle cx="660.98" cy="592.16" r="3.35"/><circle cx="668.19" cy="590.70" r="3.35"/><circle cx="675.41" cy="584.38" r="3.35"/><circle cx="682.63" cy="585.35" r="3.35"/><circle cx="689.85" cy="638.55" r="3.35"/><circle cx="697.06" cy="679.60" r="3.35"/><circle cx="704.28" cy="680.08" r="3.35"/><circle cx="711.50" cy="679.11" r="3.35"/><circle cx="718.72" cy="678.63" r="3.35"/><circle cx="725.93" cy="678.63" r="3.35"/><circle cx="733.15" cy="678.63" r="3.35"/></g>
<text x="149.0" y="15.2" font-family="Liberation Sans, sans-serif" stroke="#231f20" stroke-width="0.3" font-size="15.5" text-anchor="middle" fill="#231f20">November</text>
<text x="321.4" y="15.2" font-family="Liberation Sans, sans-serif" stroke="#231f20" stroke-width="0.3" font-size="15.5" text-anchor="middle" fill="#231f20">March</text>
<text x="487.2" y="15.2" font-family="Liberation Sans, sans-serif" stroke="#231f20" stroke-width="0.3" font-size="15.5" text-anchor="middle" fill="#231f20">June</text>
<text x="652.6" y="15.2" font-family="Liberation Sans, sans-serif" stroke="#231f20" stroke-width="0.3" font-size="15.5" text-anchor="middle" fill="#231f20">September</text>
<text x="57.6" y="23.35" font-family="Liberation Sans, sans-serif" stroke="#231f20" stroke-width="0.3" font-size="13.5" text-anchor="end" fill="#231f20">100</text>
<text x="57.6" y="56.55" font-family="Liberation Sans, sans-serif" stroke="#231f20" stroke-width="0.3" font-size="13.5" text-anchor="end" fill="#231f20">80</text>
<text x="57.6" y="89.75" font-family="Liberation Sans, sans-serif" stroke="#231f20" stroke-width="0.3" font-size="13.5" text-anchor="end" fill="#231f20">60</text>
<text x="57.6" y="122.95" font-family="Liberation Sans, sans-serif" stroke="#231f20" stroke-width="0.3" font-size="13.5" text-anchor="end" fill="#231f20">40</text>
<text x="57.6" y="156.15" font-family="Liberation Sans, sans-serif" stroke="#231f20" stroke-width="0.3" font-size="13.5" text-anchor="end" fill="#231f20">20</text>
<text x="57.6" y="189.35" font-family="Liberation Sans, sans-serif" stroke="#231f20" stroke-width="0.3" font-size="13.5" text-anchor="end" fill="#231f20">0</text>
<text x="58.3" y="201.05" font-family="Liberation Sans, sans-serif" stroke="#231f20" stroke-width="0.3" font-size="13.5" text-anchor="end" fill="#231f20">24</text>
<text x="58.3" y="229.31" font-family="Liberation Sans, sans-serif" stroke="#231f20" stroke-width="0.3" font-size="13.5" text-anchor="end" fill="#231f20">16</text>
<text x="58.3" y="257.58" font-family="Liberation Sans, sans-serif" stroke="#231f20" stroke-width="0.3" font-size="13.5" text-anchor="end" fill="#231f20">8</text>
<text x="58.3" y="285.84" font-family="Liberation Sans, sans-serif" stroke="#231f20" stroke-width="0.3" font-size="13.5" text-anchor="end" fill="#231f20">0</text>
<text x="58.3" y="314.11" font-family="Liberation Sans, sans-serif" stroke="#231f20" stroke-width="0.3" font-size="13.5" text-anchor="end" fill="#231f20">-8</text>
<text x="58.3" y="342.37" font-family="Liberation Sans, sans-serif" stroke="#231f20" stroke-width="0.3" font-size="13.5" text-anchor="end" fill="#231f20">-16</text>
<text x="58.5" y="394.25" font-family="Liberation Sans, sans-serif" stroke="#231f20" stroke-width="0.3" font-size="13.5" text-anchor="end" fill="#231f20">38.8</text>
<text x="58.5" y="437.15" font-family="Liberation Sans, sans-serif" stroke="#231f20" stroke-width="0.3" font-size="13.5" text-anchor="end" fill="#231f20">38.4</text>
<text x="58.5" y="480.15" font-family="Liberation Sans, sans-serif" stroke="#231f20" stroke-width="0.3" font-size="13.5" text-anchor="end" fill="#231f20">38.0</text>
<text x="58.5" y="522.95" font-family="Liberation Sans, sans-serif" stroke="#231f20" stroke-width="0.3" font-size="13.5" text-anchor="end" fill="#231f20">37.6</text>
<text x="58.5" y="556.35" font-family="Liberation Sans, sans-serif" stroke="#231f20" stroke-width="0.3" font-size="13.5" text-anchor="end" fill="#231f20">80</text>
<text x="58.5" y="589.68" font-family="Liberation Sans, sans-serif" stroke="#231f20" stroke-width="0.3" font-size="13.5" text-anchor="end" fill="#231f20">60</text>
<text x="58.5" y="623.01" font-family="Liberation Sans, sans-serif" stroke="#231f20" stroke-width="0.3" font-size="13.5" text-anchor="end" fill="#231f20">40</text>
<text x="58.5" y="656.34" font-family="Liberation Sans, sans-serif" stroke="#231f20" stroke-width="0.3" font-size="13.5" text-anchor="end" fill="#231f20">20</text>
<text x="58.5" y="689.67" font-family="Liberation Sans, sans-serif" stroke="#231f20" stroke-width="0.3" font-size="13.5" text-anchor="end" fill="#231f20">0</text>
<text transform="translate(12.9 80.35) rotate(-90)" x="0" y="0" font-family="Liberation Sans, sans-serif" stroke="#231f20" stroke-width="0.3" font-size="14.8" text-anchor="middle" fill="#231f20">Relative humidity (%)</text>
<text transform="translate(10.8 255.65) rotate(-90)" x="0" y="0" font-family="Liberation Sans, sans-serif" stroke="#231f20" stroke-width="0.3" font-size="14.8" text-anchor="middle" fill="#231f20">Ambient temperature (°C)</text>
<text transform="translate(11.1 440.75) rotate(-90)" x="0" y="0" font-family="Liberation Sans, sans-serif" stroke="#231f20" stroke-width="0.3" font-size="14.8" text-anchor="middle" fill="#231f20">Rumen temperature (°C)</text>
<text transform="translate(10.7 613.85) rotate(-90)" x="0" y="0" font-family="Liberation Sans, sans-serif" stroke="#231f20" stroke-width="0.3" font-size="14.8" text-anchor="middle" fill="#231f20">Locomotor activity (%)</text>
<text x="72.70" y="708.4" font-family="Liberation Sans, sans-serif" stroke="#231f20" stroke-width="0.3" font-size="13.6" text-anchor="middle" fill="#231f20">0:00</text>
<text x="114.70" y="708.4" font-family="Liberation Sans, sans-serif" stroke="#231f20" stroke-width="0.3" font-size="13.6" text-anchor="middle" fill="#231f20">6:00</text>
<text x="155.70" y="708.4" font-family="Liberation Sans, sans-serif" stroke="#231f20" stroke-width="0.3" font-size="13.6" text-anchor="middle" fill="#231f20">12:00</text>
<text x="199.60" y="708.4" font-family="Liberation Sans, sans-serif" stroke="#231f20" stroke-width="0.3" font-size="13.6" text-anchor="middle" fill="#231f20">18:00</text>
<text x="238.00" y="708.4" font-family="Liberation Sans, sans-serif" stroke="#231f20" stroke-width="0.3" font-size="13.6" text-anchor="middle" fill="#231f20">0:00</text>
<text x="280.30" y="708.4" font-family="Liberation Sans, sans-serif" stroke="#231f20" stroke-width="0.3" font-size="13.6" text-anchor="middle" fill="#231f20">6:00</text>
<text x="321.10" y="708.4" font-family="Liberation Sans, sans-serif" stroke="#231f20" stroke-width="0.3" font-size="13.6" text-anchor="middle" fill="#231f20">12:00</text>
<text x="365.10" y="708.4" font-family="Liberation Sans, sans-serif" stroke="#231f20" stroke-width="0.3" font-size="13.6" text-anchor="middle" fill="#231f20">18:00</text>
<text x="402.90" y="708.4" font-family="Liberation Sans, sans-serif" stroke="#231f20" stroke-width="0.3" font-size="13.6" text-anchor="middle" fill="#231f20">0:00</text>
<text x="444.90" y="708.4" font-family="Liberation Sans, sans-serif" stroke="#231f20" stroke-width="0.3" font-size="13.6" text-anchor="middle" fill="#231f20">6:00</text>
<text x="486.10" y="708.4" font-family="Liberation Sans, sans-serif" stroke="#231f20" stroke-width="0.3" font-size="13.6" text-anchor="middle" fill="#231f20">12:00</text>
<text x="529.90" y="708.4" font-family="Liberation Sans, sans-serif" stroke="#231f20" stroke-width="0.3" font-size="13.6" text-anchor="middle" fill="#231f20">18:00</text>
<text x="570.90" y="708.4" font-family="Liberation Sans, sans-serif" stroke="#231f20" stroke-width="0.3" font-size="13.6" text-anchor="middle" fill="#231f20">0:00</text>
<text x="613.05" y="708.4" font-family="Liberation Sans, sans-serif" stroke="#231f20" stroke-width="0.3" font-size="13.6" text-anchor="middle" fill="#231f20">6:00</text>
<text x="654.25" y="708.4" font-family="Liberation Sans, sans-serif" stroke="#231f20" stroke-width="0.3" font-size="13.6" text-anchor="middle" fill="#231f20">12:00</text>
<text x="698.00" y="708.4" font-family="Liberation Sans, sans-serif" stroke="#231f20" stroke-width="0.3" font-size="13.6" text-anchor="middle" fill="#231f20">18:00</text>
<text x="737.40" y="708.4" font-family="Liberation Sans, sans-serif" stroke="#231f20" stroke-width="0.3" font-size="13.6" text-anchor="middle" fill="#231f20">0:00</text>
<text x="404.05" y="737.8" font-family="Liberation Sans, sans-serif" stroke="#231f20" stroke-width="0.3" font-size="15.6" text-anchor="middle" fill="#231f20">Time of day</text>
</svg>
</body></html>
